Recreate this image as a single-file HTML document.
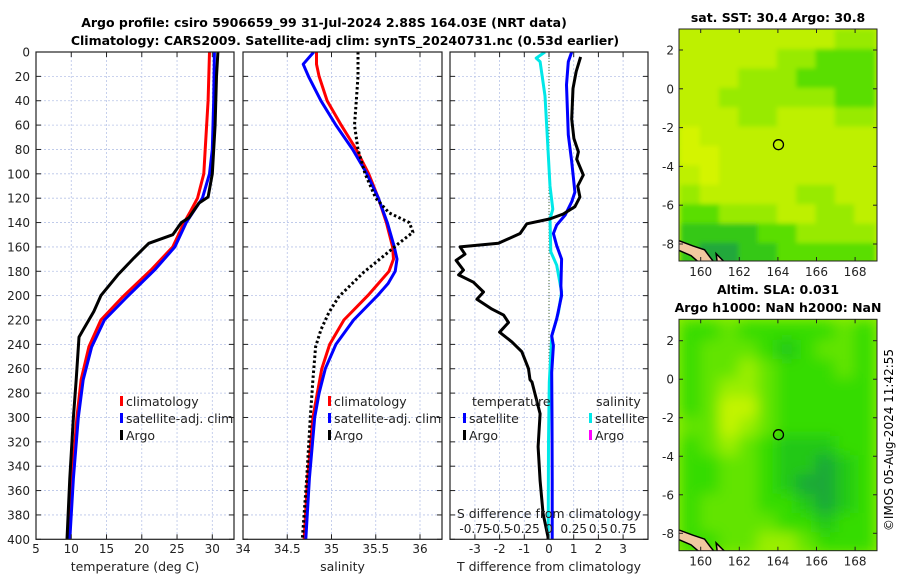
<!DOCTYPE html>
<html><head><meta charset="utf-8"><style>
html,body{margin:0;padding:0;background:#fff;}
svg{display:block;font-family:"DejaVu Sans","Liberation Sans",sans-serif;}
</style></head><body>
<svg id="chart" width="900" height="580" viewBox="0 0 900 580" xmlns="http://www.w3.org/2000/svg">
<defs>
<clipPath id="cp1"><rect x="36" y="52" width="198" height="487"/></clipPath>
<clipPath id="cp2"><rect x="243" y="52" width="199" height="487"/></clipPath>
<clipPath id="cp3"><rect x="450" y="52" width="198" height="487"/></clipPath>
<clipPath id="cpm1"><rect x="679" y="29" width="198" height="232"/></clipPath>
<clipPath id="cpm2"><rect x="679" y="319" width="198" height="232"/></clipPath>
<filter id="blur1" x="-10%" y="-10%" width="120%" height="120%"><feGaussianBlur stdDeviation="2.5"/></filter>
<filter id="blur2" x="-10%" y="-10%" width="120%" height="120%"><feGaussianBlur stdDeviation="7"/></filter>
</defs>
<g id="layer"></g>
<text x="324" y="27" font-size="12.5" font-weight="bold" text-anchor="middle">Argo profile: csiro 5906659_99 31-Jul-2024 2.88S 164.03E (NRT data)</text>
<text x="345" y="45" font-size="12.5" font-weight="bold" text-anchor="middle">Climatology: CARS2009. Satellite-adj clim: synTS_20240731.nc (0.53d earlier)</text>
<text x="778" y="22" font-size="12.5" font-weight="bold" text-anchor="middle">sat. SST: 30.4 Argo: 30.8</text>
<text x="778" y="294" font-size="12.5" font-weight="bold" text-anchor="middle">Altim. SLA: 0.031</text>
<text x="778" y="312" font-size="12.5" font-weight="bold" text-anchor="middle">Argo h1000: NaN h2000: NaN</text>
<text transform="translate(893,440) rotate(-90)" font-size="12" text-anchor="middle">©IMOS 05-Aug-2024 11:42:55</text>
</svg>
<script>
// ---- data ----
const tDepthClim = [0,40,80,100,120,132,140,160,179,201,220,242,269,300,350,400];
const tClim      = [29.6,29.4,29.0,28.8,27.9,26.8,26.0,24.4,21.3,17.3,14.2,12.5,11.4,10.8,10.1,9.6];
const tSat       = [30.3,30.2,30.0,29.6,28.6,27.2,26.3,24.7,21.8,17.9,14.7,12.9,11.7,11.0,10.3,9.8];
const tDepthArgo = [0,20,60,100,119,124,136,140,150,157,161,169,183,200,213,228,234,269,300,350,400];
const tArgo      = [30.8,30.6,30.4,30.0,29.4,28.1,26.7,25.6,24.4,21.0,20.3,18.9,16.6,14.2,13.2,11.7,11.1,10.7,10.3,9.8,9.4];
const sDepthClim = [0,10,20,40,60,80,100,120,140,160,170,180,190,200,220,240,260,280,300,350,400];
const sClim      = [34.83,34.83,34.86,34.95,35.11,35.28,35.42,35.53,35.62,35.69,35.70,35.65,35.53,35.41,35.14,34.98,34.89,34.84,34.79,34.73,34.69];
const sSat       = [34.80,34.68,34.74,34.88,35.05,35.24,35.40,35.53,35.63,35.71,35.74,35.72,35.64,35.52,35.25,35.05,34.93,34.86,34.81,34.75,34.71];
const sDepthArgo = [0,20,40,60,80,100,120,132,140,148,157,168,181,201,214,228,242,269,300,350,400];
const sArgo      = [35.30,35.30,35.28,35.26,35.30,35.38,35.50,35.65,35.88,35.92,35.76,35.58,35.36,35.08,34.97,34.88,34.82,34.79,34.76,34.72,34.67];
const dDepthArgoT = [4,16,30,55,71,82,88,101,110,119,127,133,137,141,149,157,160,166,171,179,183,189,197,203,211,216,222,230,238,246,260,269,271,297,324,352,379,398,400];
const dArgoT      = [1.28,1.1,0.97,0.92,1.01,1.19,1.12,1.39,1.16,1.25,1.05,0.58,0.04,-0.9,-1.17,-2.05,-3.6,-3.4,-3.76,-3.46,-3.66,-3.06,-2.65,-2.92,-2.31,-1.84,-1.64,-2.0,-1.5,-1.1,-0.83,-0.77,-0.69,-0.36,-0.44,-0.36,-0.24,-0.04,-0.04];
const dDepthSatT = [0,8,27,68,90,115,123,134,142,149,159,170,192,200,219,233,241,263,300,350,400];
const dSatT      = [0.92,0.78,0.71,0.78,0.92,1.05,0.92,0.65,0.31,0.18,0.31,0.51,0.48,0.51,0.31,0.11,0.18,0.11,0.12,0.13,0.13];
const dDepthSatS = [0,5,8,36,68,110,129,137,164,175,197,214,233,271,320,400];
const dSatS      = [-0.04,-0.13,-0.09,-0.04,-0.018,0.01,0.038,0.01,0.018,0.078,0.128,0.095,0.028,0.003,-0.005,-0.008];
const depthTicks = [0,20,40,60,80,100,120,140,160,180,200,220,240,260,280,300,320,340,360,380,400];
const tTicks = [5,10,15,20,25,30];
const sTicks = [34,34.5,35,35.5,36];
const dTicks = [-3,-2,-1,0,1,2,3];
const sTopLabels = ["-0.75","-0.5","-0.25","0","0.25","0.5","0.75"];
const lonTicks = [160,162,164,166,168];
const latTicks = [2,0,-2,-4,-6,-8];
const sstGrid = [
 [1,1,1,1,1,1,1,1,2,2],
 [1,1,1,1,1,2,2,3,3,3],
 [1,1,1,2,2,2,3,3,3,3],
 [1,1,2,2,2,2,2,2,3,3],
 [1,1,1,2,2,1,1,1,2,2],
 [0,1,1,1,1,1,1,1,1,1],
 [0,0,1,1,1,1,1,1,1,1],
 [1,0,1,1,1,1,1,1,1,1],
 [2,1,1,1,1,1,2,2,1,1],
 [3,3,2,2,2,1,1,2,2,1],
 [4,4,4,4,3,3,2,2,2,2],
 [4,5,5,4,4,3,3,3,3,3]];
const slaGrid = [
 [3,3,2,3,3,3,3,3,2,3],
 [3,2,2,2,3,4,3,2,2,3],
 [3,2,2,1,2,3,3,3,2,3],
 [3,2,1,1,2,3,3,3,3,3],
 [3,2,0,0,2,3,3,3,3,3],
 [2,2,0,1,2,3,3,3,3,3],
 [3,2,1,2,3,4,4,4,3,3],
 [3,3,2,2,3,4,4,5,4,3],
 [3,3,2,2,3,4,5,5,4,3],
 [3,2,2,2,3,3,4,5,4,3],
 [3,2,2,2,2,3,3,4,3,3],
 [3,3,2,2,1,1,2,3,3,3]];
const sstColors = ["#d4f400","#bef000","#98ea00","#5ade00","#34c818","#22a83a"];
const slaColors = ["#c4f400","#9aee00","#62e400","#34dc00","#22c818","#1ca838"];
const argoLon = 164.03, argoLat = -2.88;

// ---- helpers ----
const NS="http://www.w3.org/2000/svg";
const layer=document.getElementById('layer');
function mk(tag,attrs,parent){const e=document.createElementNS(NS,tag);for(const k in attrs)e.setAttribute(k,attrs[k]);(parent||layer).appendChild(e);return e;}
const Y0=52,Y1=539.3;
function yD(d){return Y0+(d/400)*(Y1-Y0);}
function lin(v0,p0,v1,p1){return v=>p0+(v-v0)*(p1-p0)/(v1-v0);}
const xT=lin(5,36,30,212.3);
const xS=lin(34,243,36,420);
const xDT=lin(0,549,3,623.1);
const xDS=v=>xDT(v*4);

function panelFrame(x0,x1,name,xticks,xfun,labels){
  const g=mk('g',{});
  
  
  mk('rect',{x:x0,y:Y0,width:x1-x0,height:Y1-Y0,fill:'#fff'},g);
  depthTicks.forEach(d=>{if(d>0&&d<400){const l=mk('line',{x1:x0,x2:x1,y1:yD(d),y2:yD(d),stroke:'#b8c4e8','stroke-width':0.8,'stroke-dasharray':'2 2'},g);
    }});
  xticks.forEach(v=>{const px=xfun(v);if(px>x0+1&&px<x1-1){const l=mk('line',{x1:px,x2:px,y1:Y0,y2:Y1,stroke:'#b8c4e8','stroke-width':0.8,'stroke-dasharray':'2 2'},g);
    }});
  return g;
}
function panelBorder(x0,x1,xticks,xfun,labels,title,name){
  const g=mk('g',{});
  
  
  depthTicks.forEach(d=>{mk('line',{x1:x0,x2:x0+5,y1:yD(d),y2:yD(d),stroke:'#222','stroke-width':1},g);mk('line',{x1:x1-5,x2:x1,y1:yD(d),y2:yD(d),stroke:'#222','stroke-width':1},g);});
  xticks.forEach((v,i)=>{const px=xfun(v);
    mk('line',{x1:px,x2:px,y1:Y1,y2:Y1-5,stroke:'#222'},g);mk('line',{x1:px,x2:px,y1:Y0,y2:Y0+5,stroke:'#222'},g);
    const t=mk('text',{x:px,y:553,'font-size':12,'text-anchor':'middle',fill:'#222'},g);t.textContent=labels[i];
    });
  mk('rect',{x:x0,y:Y0,width:x1-x0,height:Y1-Y0,fill:'none',stroke:'#222','stroke-width':1.2},g);
  const tt=mk('text',{x:(x0+x1)/2,y:571,'font-size':12.5,'text-anchor':'middle',fill:'#222'},g);tt.textContent=title;
  
}
function series(vals,depths,xfun,color,clip,name,dash){
  const pts=vals.map((v,i)=>xfun(v).toFixed(1)+','+yD(depths[i]).toFixed(1)).join(' ');
  const p=mk('polyline',{points:pts,fill:'none',stroke:color,'stroke-width':3,'stroke-linejoin':'round','clip-path':'url(#'+clip+')'});
  if(dash)p.setAttribute('stroke-dasharray',dash);
  
  
}
function legendEntry(x,y,color,label,name){
  const g=mk('g',{});
  
  
  mk('rect',{x:x,y:y-10,width:3,height:10,fill:color},g);
  const t=mk('text',{x:x+6,y:y,'font-size':12.5,fill:'#222'},g);t.textContent=label;
}

// ---- panel 1: temperature ----
panelFrame(36,234,'temperature-panel',tTicks,xT);
series(tClim,tDepthClim,xT,'#f00','cp1','temperature-climatology-line');
series(tSat,tDepthClim,xT,'#00f','cp1','temperature-satellite-line');
series(tArgo,tDepthArgo,xT,'#000','cp1','temperature-argo-line');
panelBorder(36,234,tTicks,xT,tTicks.map(String),'temperature (deg C)','temperature-axes');
depthTicks.forEach(d=>{const t=mk('text',{x:30,y:yD(d)+4.5,'font-size':12,'text-anchor':'end',fill:'#222'});t.textContent=d;
  });
legendEntry(120,406,'#f00','climatology','legend-climatology');
legendEntry(120,423,'#00f','satellite-adj. clim','legend-satellite-adj-clim');
legendEntry(120,440,'#000','Argo','legend-argo');

// ---- panel 2: salinity ----
panelFrame(243,442,'salinity-panel',sTicks,xS);
series(sClim,sDepthClim,xS,'#f00','cp2','salinity-climatology-line');
series(sSat,sDepthClim,xS,'#00f','cp2','salinity-satellite-line');
series(sArgo,sDepthArgo,xS,'#000','cp2','salinity-argo-line','2.5 2.5');
panelBorder(243,442,sTicks,xS,sTicks.map(String),'salinity','salinity-axes');
legendEntry(328,406,'#f00','climatology','legend-climatology-salinity');
legendEntry(328,423,'#00f','satellite-adj. clim','legend-satellite-adj-clim-salinity');
legendEntry(328,440,'#000','Argo','legend-argo-salinity');

// ---- panel 3: differences ----
panelFrame(450,648,'difference-panel',dTicks,xDT);
const z=mk('line',{x1:xDT(0),x2:xDT(0),y1:Y0,y2:Y1,stroke:'#4a6a30','stroke-width':1,'stroke-dasharray':'1 2'});

series(dSatS,dDepthSatS,xDS,'#00e8e8','cp3','salinity-satellite-diff-line');
series(dSatT,dDepthSatT,xDT,'#00f','cp3','temperature-satellite-diff-line');
series(dArgoT,dDepthArgoT,xDT,'#000','cp3','temperature-argo-diff-line');
panelBorder(450,648,dTicks,xDT,dTicks.map(String),'T difference from climatology','difference-axes');
{const t=mk('text',{x:472,y:406,'font-size':12.5,fill:'#222'});t.textContent='temperature';}
{const t=mk('text',{x:596,y:406,'font-size':12.5,fill:'#222'});t.textContent='salinity';}
legendEntry(463,423,'#00f','satellite','legend-temperature-satellite');
legendEntry(463,440,'#000','Argo','legend-temperature-argo');
legendEntry(589,423,'#00e8e8','satellite','legend-salinity-satellite');
legendEntry(589,440,'#f0f','Argo','legend-salinity-argo');
{const t=mk('text',{x:549,y:518,'font-size':12.5,'text-anchor':'middle',fill:'#222'});t.textContent='S difference from climatology';}
dTicks.forEach((v,i)=>{const t=mk('text',{x:xDT(v),y:533,'font-size':12,'text-anchor':'middle',fill:'#222'});t.textContent=sTopLabels[i];
  });

// ---- maps ----
function drawMap(grid,colors,top,bottom,lat2,latm8,clip,filt,name){
  const x0=679,x1=877;
  const xL=lin(160,700.7,168,855.1);
  const yL=lin(2,lat2,-8,latm8);
  const g=mk('g',{'clip-path':'url(#'+clip+')'});
  
  
  mk('rect',{x:x0,y:top,width:x1-x0,height:bottom-top,fill:colors[1]},g);
  const gi=mk('g',{filter:'url(#'+filt+')'},g);
  grid.forEach((row,r)=>row.forEach((lv,c)=>{
    const lon=159+c, lat=3-r;
    mk('rect',{x:xL(lon)-1,y:yL(lat)-1,width:xL(lon+1)-xL(lon)+2,height:yL(lat-1)-yL(lat)+2,fill:colors[lv]},gi);
  }));
  // land
  const land=mk('path',{d:`M${xL(158.8)},${yL(-7.8)} L${xL(159.6)},${yL(-8.1)} L${xL(160.2)},${yL(-8.3)} L${xL(160.5)},${yL(-8.7)} L${xL(160.9)},${yL(-9.2)} L${xL(160.2)},${yL(-9.2)} L${xL(159.5)},${yL(-8.6)} L${xL(158.8)},${yL(-8.3)} Z M${xL(160.8)},${yL(-8.5)} L${xL(161.2)},${yL(-8.9)} L${xL(161.3)},${yL(-9.3)} L${xL(160.9)},${yL(-9.3)} Z`,fill:'#f0c8a0',stroke:'#000','stroke-width':1.5},g);
  
  const c=mk('circle',{cx:xL(argoLon),cy:yL(argoLat),r:5,fill:'none',stroke:'#000','stroke-width':1.3});
  
  mk('rect',{x:x0,y:top,width:x1-x0,height:bottom-top,fill:'none',stroke:'#222','stroke-width':1});
  lonTicks.forEach(v=>{const px=xL(v);mk('line',{x1:px,x2:px,y1:bottom,y2:bottom-4,stroke:'#222'});mk('line',{x1:px,x2:px,y1:top,y2:top+4,stroke:'#222'});
    const t=mk('text',{x:px,y:bottom+15,'font-size':12,'text-anchor':'middle',fill:'#222'});t.textContent=v;
    });
  latTicks.forEach(v=>{const py=yL(v);mk('line',{x1:x0,x2:x0+4,y1:py,y2:py,stroke:'#222'});mk('line',{x1:x1-4,x2:x1,y1:py,y2:py,stroke:'#222'});
    const t=mk('text',{x:674,y:py+4.5,'font-size':12,'text-anchor':'end',fill:'#222'});t.textContent=v;
    });
}
drawMap(sstGrid,sstColors,29,261,50,244,'cpm1','blur1','sst-map');
drawMap(slaGrid,slaColors,319.3,550.7,340.7,533.3,'cpm2','blur2','sla-map');
</script>
</body></html>
